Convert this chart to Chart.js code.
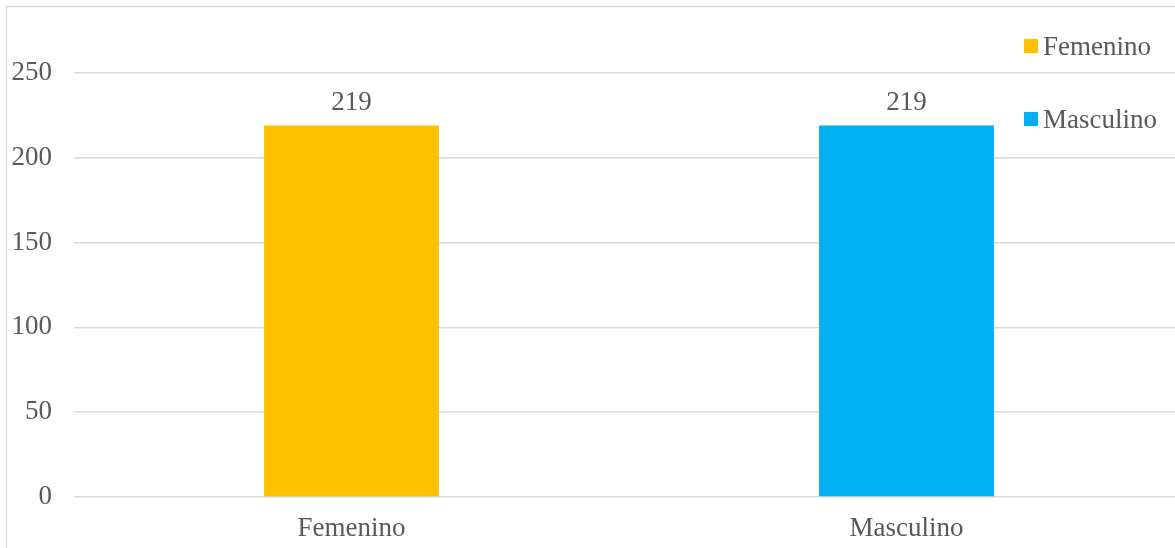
<!DOCTYPE html>
<html>
<head>
<meta charset="utf-8">
<script src="https://cdn.jsdelivr.net/npm/chart.js@4"></script>
<style>
  html, body { margin: 0; padding: 0; overflow: hidden; background: #fff; }
  #wrap { width: 1200px; height: 560px; }
</style>
</head>
<body>
<div id="wrap"><canvas id="myChart" width="1200" height="560"></canvas></div>
<script>
// chart data
const categories = ['Femenino', 'Masculino']
const values = [219, 219]
const barColors = ['#FFC000', '#00B0F0']
const yTicks = [0, 50, 100, 150, 200, 250]

const textColor = '#595959'
const gridColor = '#d9d9d9'
const fontFamily = "'Liberation Serif', 'Times New Roman', serif"
const fontSize = 27

// white background + outer border of the chart box
const frame = {
    id: 'frame',
    beforeDraw(chart) {
        const c = chart.ctx
        c.save()
        c.fillStyle = '#fff'
        c.fillRect(0, 0, chart.width, chart.height)
        c.strokeStyle = gridColor
        c.lineWidth = 1.5
        c.strokeRect(6.5, 6.5, chart.width, chart.height)
        c.restore()
    }
}

// value labels above the bars
const valueLabels = {
    id: 'valueLabels',
    afterDatasetsDraw(chart) {
        const c = chart.ctx
        const meta = chart.getDatasetMeta(0)
        c.save()
        c.font = fontSize + 'px ' + fontFamily
        c.fillStyle = textColor
        c.textAlign = 'center'
        c.textBaseline = 'alphabetic'
        meta.data.forEach((bar, i) => {
            c.fillText(String(values[i]), bar.x, bar.y - 16)
        })
        c.restore()
    }
}

// legend top right, one entry per category
const sideLegend = {
    id: 'sideLegend',
    afterDraw(chart) {
        const c = chart.ctx
        c.save()
        c.font = fontSize + 'px ' + fontFamily
        c.textBaseline = 'alphabetic'
        c.textAlign = 'left'
        const baselines = [55, 128]
        categories.forEach((name, i) => {
            const b = baselines[i]
            c.fillStyle = barColors[i]
            c.fillRect(1024, b - 16, 14, 14)
            c.fillStyle = textColor
            c.fillText(name, 1043, b)
        })
        c.restore()
    }
}

const data = {
    labels: categories,
    datasets: [{
        data: values,
        backgroundColor: barColors,
        borderWidth: 0,
        categoryPercentage: 1,
        barPercentage: 0.315,
    }]
}

const config = {
    type: 'bar',
    data: data,
    options: {
        responsive: false,
        animation: false,
        layout: {
            padding: { top: 73, right: 16, left: 0, bottom: 0 }
        },
        plugins: {
            legend: { display: false },
            tooltip: { enabled: false },
        },
        scales: {
            x: {
                grid: { display: false, drawTicks: false },
                border: { display: false },
                ticks: {
                    color: textColor,
                    font: { family: fontFamily, size: fontSize },
                    padding: 16,
                },
                afterFit(scale) { scale.height = 63 },
            },
            y: {
                min: 0,
                max: 250,
                afterBuildTicks(scale) {
                    scale.ticks = yTicks.map(v => ({ value: v }))
                },
                grid: { color: gridColor, lineWidth: 1.5, drawTicks: false },
                border: { display: false },
                ticks: {
                    color: textColor,
                    font: { family: fontFamily, size: fontSize },
                    padding: 22,
                },
                afterFit(scale) { scale.width = 74 },
            }
        }
    },
    plugins: [frame, valueLabels, sideLegend],
}

const myChart = new Chart(document.getElementById('myChart').getContext('2d'), config)
</script>
</body>
</html>
